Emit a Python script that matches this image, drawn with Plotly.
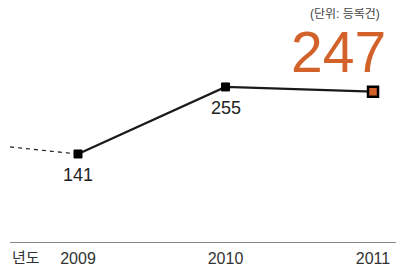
import plotly.graph_objects as go

years = [2009, 2010, 2011]
values = [141, 255, 247]
prev_year = [2008, 2009]
prev_values = [167, 141]
tick_labels = ["2009", "2010", "2011"]

FONT = "Liberation Sans, Arial, Noto Sans CJK KR"
ORANGE = "#D2622A"
DARK = "#1a1a1a"

fig = go.Figure()
fig.add_trace(go.Scatter(x=prev_year, y=prev_values, mode="lines",
                         line=dict(color=DARK, width=1.2, dash="4px,4px"),
                         hoverinfo="skip", showlegend=False))
fig.add_trace(go.Scatter(x=years, y=values, mode="lines+markers",
                         line=dict(color=DARK, width=2.2),
                         marker=dict(symbol="square", opacity=1,
                                     size=[8, 8, 10],
                                     color=["#000000", "#000000", ORANGE],
                                     line=dict(color="#000000", width=[1, 1, 2.5])),
                         showlegend=False, cliponaxis=False))

for x, v in zip(years[:2], values[:2]):
    fig.add_annotation(x=x, y=v, text=str(v), showarrow=False,
                       yshift=-21, font=dict(family=FONT, size=18, color="#222"))

fig.add_annotation(x=years[2], y=values[2], text=str(values[2]), showarrow=False,
                   xshift=-35, yshift=40, borderpad=0,
                   font=dict(family=FONT, size=57, color=ORANGE))
fig.add_annotation(x=years[2], y=values[2], text="(단위: 등록건)", showarrow=False,
                   xshift=-28, yshift=78, borderpad=0,
                   font=dict(family=FONT, size=12, color="#444"))
fig.add_annotation(xref="paper", yref="paper", x=0, y=0, xanchor="left", yanchor="top",
                   text="년도", showarrow=False, yshift=-5,
                   font=dict(family=FONT, size=15, color="#333"))

fig.update_xaxes(range=[2008.539, 2011.21], tickvals=years, ticktext=tick_labels,
                 showgrid=False, zeroline=False, showline=True, linecolor="#888",
                 linewidth=1.2, ticks="", ticklabelstandoff=2,
                 tickfont=dict(family=FONT, size=16, color="#333"))
fig.update_yaxes(range=[-8.7, 389.3], visible=False, showgrid=False)
fig.update_layout(width=396, height=258, margin=dict(l=2, r=0, t=0, b=24),
                  plot_bgcolor="white", paper_bgcolor="white")
fig.write_html("out.html")
